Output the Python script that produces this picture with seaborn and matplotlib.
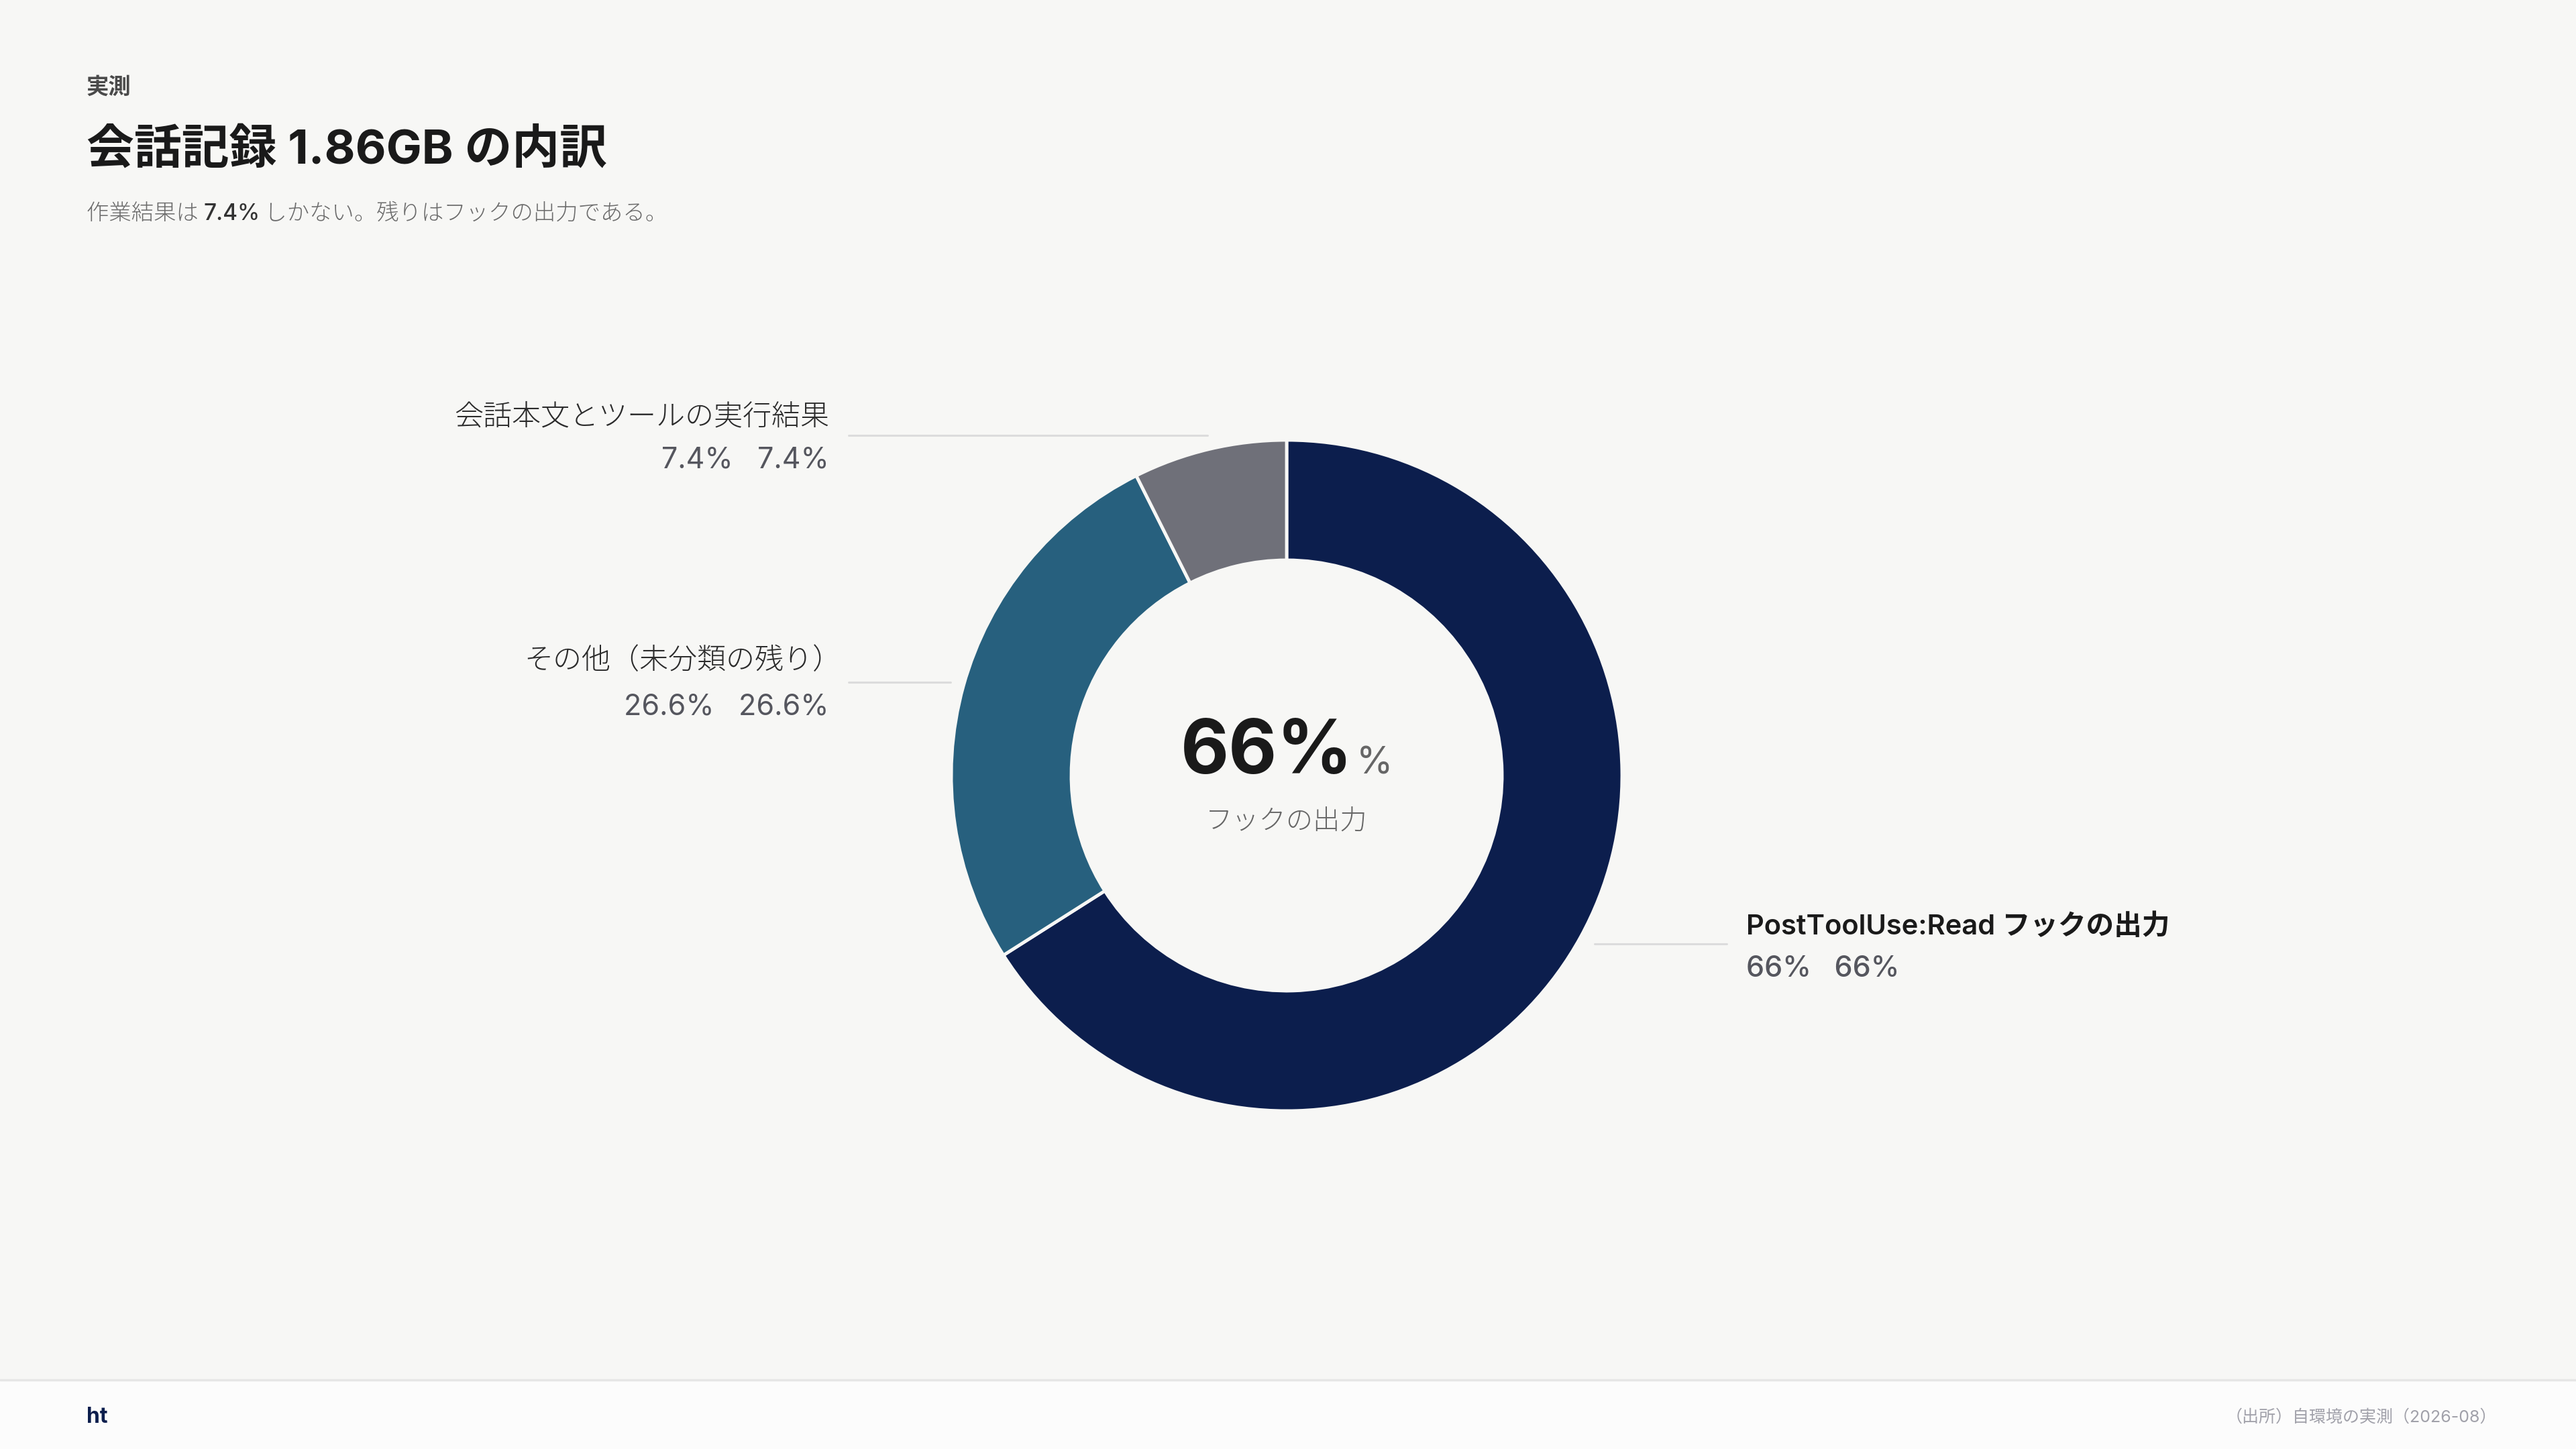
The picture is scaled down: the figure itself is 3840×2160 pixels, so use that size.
import matplotlib
matplotlib.use("Agg")
import matplotlib.pyplot as plt
from matplotlib.lines import Line2D
from matplotlib.patches import Rectangle
from matplotlib.transforms import IdentityTransform
import seaborn as sns

# ---------------- data ----------------
categories = ["PostToolUse:Read フックの出力", "その他（未分類の残り）", "会話本文とツールの実行結果"]
shares = [66.0, 26.6, 7.4]
share_labels = ["66%", "26.6%", "7.4%"]
colors = ["#0c1e4d", "#27607e", "#6f7079"]
center_value = "66%"
center_unit = "%"
center_caption = "フックの出力"
kicker = "実測"
title = "会話記録 1.86GB の内訳"
subtitle_parts = ["作業結果は ", "7.4%", " しかない。残りはフックの出力である。"]
brand = "ht"
source = "（出所）自環境の実測（2026-08）"

# ---------------- style ----------------
sns.set_theme(style="white")
FAM = ["Inter", "Noto Sans CJK JP", "DejaVu Sans"]
CJK = ["Noto Sans CJK JP", "DejaVu Sans"]
plt.rcParams["font.family"] = FAM
BG = "#f7f7f5"

W, H = 3840, 2160
fig = plt.figure(figsize=(W / 100, H / 100), dpi=100, facecolor=BG)
ID = IdentityTransform()


def Y(y):
    return H - y


def txt(x, y, s, **kw):
    kw.setdefault("family", FAM)
    return fig.text(x, Y(y), s, transform=ID, **kw)


# ---------------- donut ----------------
cx, cy, R, r_in = 1918, 1156, 500, 321
ax = fig.add_axes([(cx - R) / W, (H - cy - R) / H, 2 * R / W, 2 * R / H])
ax.set_facecolor(BG)
pal = sns.color_palette(colors)
ax.pie(shares, colors=pal, startangle=90, counterclock=False, radius=1,
       wedgeprops=dict(width=(R - r_in) / R, edgecolor=BG, linewidth=3.5))
ax.set_xlim(-1, 1)
ax.set_ylim(-1, 1)
ax.set_aspect("equal")
ax.axis("off")

renderer = fig.canvas.get_renderer()

# center text
t_big = txt(0, 1153, center_value, fontsize=80, weight="bold", color="#1a1a1a",
            ha="left", va="baseline")
t_small = txt(0, 1153, center_unit, fontsize=40, color="#666666",
              ha="left", va="baseline")
wb = t_big.get_window_extent(renderer).width
ws = t_small.get_window_extent(renderer).width
gap = 4
x0 = cx - (wb + gap + ws) / 2
t_big.set_x(x0)
t_small.set_x(x0 + wb + gap)
txt(cx, 1226, center_caption, fontsize=29, color="#666666", ha="center", va="center",
    weight="light")

# ---------------- labels & leaders ----------------
LINE_C = "#dcdcdc"


def leader(x1, x2, y):
    fig.add_artist(Line2D([x1, x2], [Y(y), Y(y)], transform=ID, color=LINE_C, lw=2.2))


def pair(a, b):
    return f"{a}   {b}"


# PostToolUse (right)
txt(2603, 1393, categories[0], fontsize=30, weight="semibold", color="#1a1a1a",
    ha="left", va="baseline")
txt(2603, 1456, pair(share_labels[0], share_labels[0]), fontsize=31, weight="medium",
    color="#55565e", ha="left", va="baseline")
leader(2377, 2574, 1407)

# その他 (left middle)
txt(1254, 997, categories[1], fontsize=31, weight="light", color="#2b2b2b",
    ha="right", va="baseline")
txt(1236, 1065, pair(share_labels[1], share_labels[1]), fontsize=31,
    color="#55565e", ha="right", va="baseline")
leader(1265, 1417, 1017)

# 会話本文 (left top)
txt(1236, 633, categories[2], fontsize=31, weight="light", color="#2b2b2b",
    ha="right", va="baseline")
txt(1236, 697, pair(share_labels[2], share_labels[2]), fontsize=31,
    color="#55565e", ha="right", va="baseline")
leader(1265, 1800, 649)

# ---------------- header ----------------
txt(129, 140, kicker, fontsize=24, weight="bold", color="#4a4a4a", ha="left", va="baseline",
    family=CJK)
txt(129, 244, title, fontsize=51, weight="bold", color="#1a1a1a", ha="left", va="baseline")

xx = 129
for i, part in enumerate(subtitle_parts):
    if i == 1:
        t = txt(xx, 328, part, fontsize=24, weight="medium", color="#333333",
                ha="left", va="baseline")
    else:
        t = txt(xx, 328, part, fontsize=24, weight="light", color="#6b6b6b",
                ha="left", va="baseline", family=CJK)
    xx += t.get_window_extent(renderer).width

# ---------------- footer ----------------
fig.add_artist(Rectangle((0, 0), W, H - 2057, transform=ID, facecolor="#fcfcfc",
                         edgecolor="none", zorder=0))
fig.add_artist(Line2D([0, W], [Y(2057), Y(2057)], transform=ID, color="#e6e6e6", lw=2.5))
txt(129, 2121, brand, fontsize=23, weight="bold", color="#0c1e4d", ha="left", va="baseline")
txt(3722, 2120, source, fontsize=18, color="#a1a1aa", ha="right", va="baseline")

fig.savefig("out.png", dpi=100, facecolor=BG)
